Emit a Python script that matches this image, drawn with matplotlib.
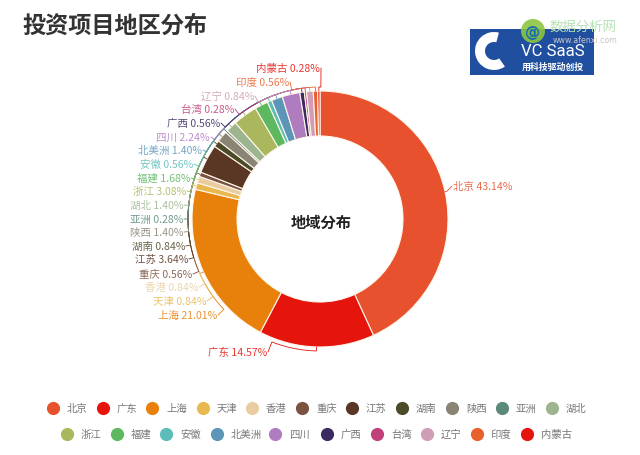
import numpy as np
import matplotlib
matplotlib.use("Agg")
import matplotlib.pyplot as plt
from matplotlib.patches import Rectangle, Wedge, Circle

plt.rcParams["font.family"] = ["Noto Sans CJK JP", "DejaVu Sans"]

categories = ["北京", "广东", "上海", "天津", "香港", "重庆", "江苏", "湖南", "陕西", "亚洲", "湖北",
              "浙江", "福建", "安徽", "北美洲", "四川", "广西", "台湾", "辽宁", "印度", "内蒙古"]
values = [43.14, 14.57, 21.01, 0.84, 0.84, 0.56, 3.64, 0.84, 1.40, 0.28, 1.40,
          3.08, 1.68, 0.56, 1.40, 2.24, 0.56, 0.28, 0.84, 0.56, 0.28]
colors = ["#e8512d", "#e5140c", "#e8800c", "#e8b94e", "#e9cda0", "#7a5240", "#5a3624", "#4d4a2a",
          "#8a8474", "#5b8a7c", "#9db58f", "#aab75c", "#5db85f", "#5cbcb8", "#5b96b8", "#b07cc0",
          "#3a2a60", "#c0407a", "#cf9db5", "#e8612d", "#e5140c"]
label_right = [512, 267, 217, 206, 198, 192, 188, 185, 183, 183, 183,
               186, 190, 193, 202, 210, 220, 234, 254, 289, 320]
label_y = [187, 353, 316, 302, 288, 275, 260, 247, 233, 220, 206,
           192, 179, 165, 151, 138, 124, 110, 97, 83, 69]
legend_x_row1 = [53, 103, 152, 203, 252, 302, 352, 402, 452, 502, 552]
legend_x_row2 = [67, 117, 166, 217, 275, 327, 377, 427, 477, 527]

W, H = 640, 456
CX, CY, R, r_in = 320, 220, 128, 83


def Y(py):
    return H - py


fig = plt.figure(figsize=(6.4, 4.56), dpi=100, facecolor="white")
ax = fig.add_axes([0, 0, 1, 1])
ax.pie(values, colors=colors, center=(CX, Y(CY)), radius=R, startangle=90, counterclock=False,
       wedgeprops=dict(width=R - r_in, edgecolor="#fff6ea", linewidth=0.8))
ax.set_xlim(0, W)
ax.set_ylim(0, H)
ax.set_aspect("equal")
ax.axis("off")
renderer = fig.canvas.get_renderer()


def fit(text, width, **kw):
    """font size that makes `text` come out `width` pixels wide"""
    t = ax.text(0, 0, text, fontsize=20, **kw)
    w = t.get_window_extent(renderer).width
    t.remove()
    return 20 * width / w


# title and centre text
ax.text(22, Y(26), "投资项目地区分布", fontsize=fit("投资项目地区分布", 185, fontweight="bold"),
        fontweight="bold", color="#333333", ha="left", va="center")
ax.text(321, Y(223), "地域分布", fontsize=fit("地域分布", 61, fontweight="bold"), fontweight="bold",
        color="#222222", ha="center", va="center")

# leader lines and labels
label_size = fit("北京 43.14%", 59)
cum = np.cumsum([0] + values[:-1])
for name, v, c, start, xr, ly in zip(categories, values, colors, cum, label_right, label_y):
    mid = np.pi / 2 - 2 * np.pi * (start + v / 2) / 100
    if name == "北京":
        xe, ha, xt = 452, "left", 453
    else:
        xe, ha, xt = xr + 1, "right", xr
    te = np.arctan2(Y(ly) - Y(CY), xe - CX)
    te = mid + (te - mid + np.pi) % (2 * np.pi) - np.pi   # shortest way round
    ra = R + 4
    if name == "北京":
        te = mid
        ra = R + 2
    th = np.linspace(mid, te, 40)
    xs = np.r_[CX + R * np.cos(mid), CX + ra * np.cos(th), xe]
    ys = np.r_[Y(CY) + R * np.sin(mid), Y(CY) + ra * np.sin(th), Y(ly)]
    ax.plot(xs, ys, color=c, lw=0.6, solid_capstyle="round", zorder=3)
    ax.text(xt, Y(ly), f"{name} {v:.2f}%", color=c, fontsize=label_size, ha=ha, va="center", alpha=0.85)

# legend
legend_size = fit("北美洲", 31)
for row, py, offset in ((legend_x_row1, 409, 0), (legend_x_row2, 435, len(legend_x_row1))):
    for i, x in enumerate(row):
        k = i + offset
        ax.scatter([x], [Y(py)], s=90, color=colors[k], linewidths=0, zorder=3)
        ax.text(x + 14, Y(py), categories[k], fontsize=legend_size, color="#777777", ha="left", va="center")

# logo
ax.add_patch(Rectangle((470, Y(76)), 124, 46, facecolor="#1f4f9e", edgecolor="none", zorder=4))
ax.add_patch(Wedge((494, Y(52)), 19, 75, 305, width=10, facecolor="white", edgecolor="none", zorder=5))
ax.text(553, Y(51), "VC SaaS", fontsize=fit("VC SaaS", 64, family="Roboto"), color="white",
        ha="center", va="center", zorder=5, family="Roboto")
ax.text(553, Y(67), "用科技驱动创投", fontsize=fit("用科技驱动创投", 62, fontweight="bold"), color="white",
        fontweight="bold", ha="center", va="center", zorder=5)

# watermark
ax.add_patch(Circle((533, Y(32)), 12, facecolor="#8cc63f", edgecolor="none", alpha=0.9, zorder=6))
ax.text(533, Y(32), "@", fontsize=11, color="#1a6fb0", ha="center", va="center", zorder=7,
        family="DejaVu Sans", fontweight="bold")
ax.text(550, Y(27), "数据分析网", fontsize=fit("数据分析网", 67), color="#b5e2b5", ha="left", va="center", zorder=7)
ax.text(553, Y(40), "www.afenxi.com", fontsize=fit("www.afenxi.com", 65, family="DejaVu Sans"), color="#c9c4cc",
        ha="left", va="center", zorder=7, family="DejaVu Sans")

fig.savefig("out.png", dpi=100, facecolor="white")
